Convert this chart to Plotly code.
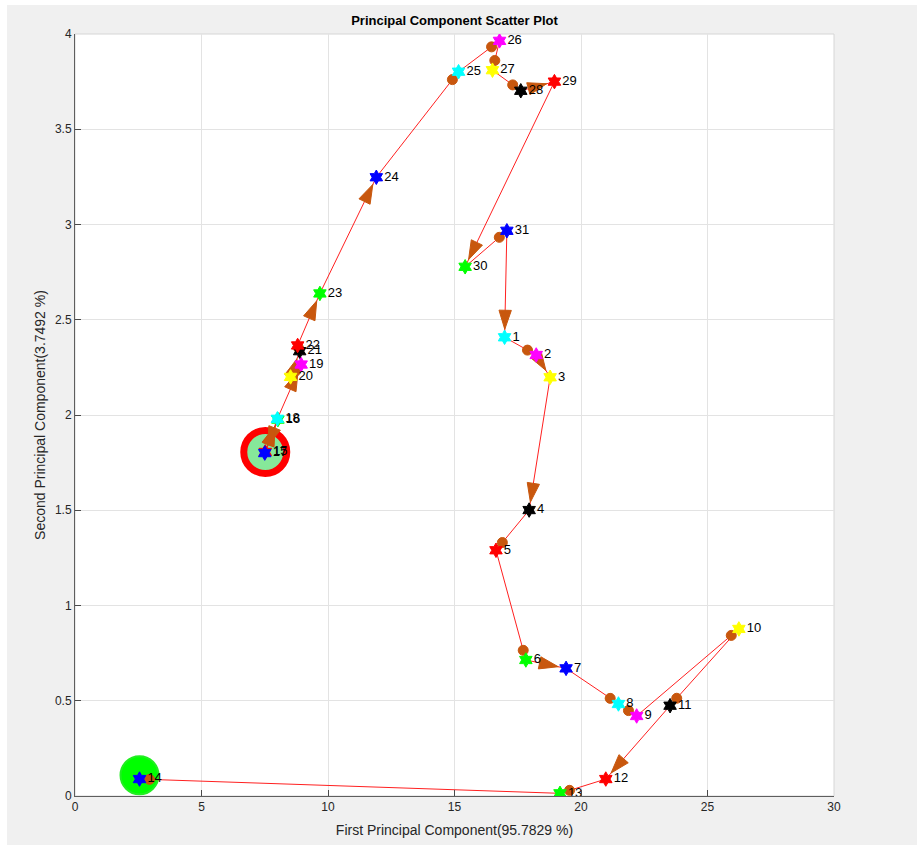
import math
import plotly.graph_objects as go

# ---- data (path order) ----
labels = [15, 16, 17, 18, 19, 20, 21, 22, 23, 24, 25, 26, 27, 28, 29, 30, 31,
          1, 2, 3, 4, 5, 6, 7, 8, 9, 10, 11, 12, 13, 14]
pc1 = [7.52, 8.02, 7.50, 8.00, 8.94, 8.52, 8.88, 8.80, 9.68, 11.91, 15.16, 16.78,
       16.50, 17.62, 18.95, 15.42, 17.07,
       16.98, 18.23, 18.78, 17.95, 16.64, 17.82, 19.41, 21.48, 22.20, 26.24,
       23.52, 20.98, 19.17, 2.55]
pc2 = [1.806, 1.976, 1.800, 1.980, 2.265, 2.200, 2.335, 2.365, 2.638, 3.248, 3.802,
       3.964, 3.810, 3.702, 3.750, 2.778, 2.967,
       2.408, 2.315, 2.198, 1.501, 1.290, 0.714, 0.670, 0.483, 0.420, 0.877,
       0.474, 0.089, 0.014, 0.089]
# arrow head style per segment (i -> i+1)
arrow_kind = ["tri", "tri", "tri", "tri", "blob", "tri", "blob", "tri", "tri",
              "blob", "blob", "blob", "blob", "tri", "tri", "blob", "tri",
              "blob", "tri", "tri", "blob", "blob", "tri", "blob", "blob", "blob",
              "blob", "tri", "blob", "blob"]

x_title = "First Principal Component(95.7829 %)"
y_title = "Second Principal Component(3.7492 %)"
title = "Principal Component Scatter Plot"
x_range = [0, 30]
y_range = [0, 4]

# ---- styling ----
W, H = 917, 845
ML, MR, MT, MB = 75, 83, 34, 49
PW, PH = W - ML - MR, H - MT - MB
px_x = PW / (x_range[1] - x_range[0])
px_y = PH / (y_range[1] - y_range[0])

cycle = ["#FF0000", "#00FF00", "#0000FF", "#00FFFF", "#FF00FF", "#FFFF00", "#000000"]
colors = [cycle[i % len(cycle)] for i in range(len(labels))]
ARROW = "#C8570E"
FONT = "Liberation Sans, Arial, sans-serif"

# arrow heads computed from data
ax_, ay_, ang, sym, size = [], [], [], [], []
for i, kind in enumerate(arrow_kind):
    dx = (pc1[i + 1] - pc1[i]) * px_x
    dy = (pc2[i + 1] - pc2[i]) * px_y
    L = math.hypot(dx, dy) or 1.0
    ux, uy = dx / L, dy / L
    back = 8.0 if kind == "tri" else 10.0
    back = min(back, 0.45 * L)
    ax_.append(pc1[i + 1] - back * ux / px_x)
    ay_.append(pc2[i + 1] - back * uy / px_y)
    ang.append(math.degrees(math.atan2(ux, uy)))
    sym.append("arrow" if kind == "tri" else "circle")
    size.append(20 if kind == "tri" else 10)

fig = go.Figure()

# start / end big markers
fig.add_trace(go.Scatter(
    x=[pc1[0]], y=[pc2[0]], mode="markers",
    marker=dict(symbol="circle", size=43, color="#86E89A", opacity=1,
                line=dict(color="#FF0000", width=7)),
    hoverinfo="skip"))
fig.add_trace(go.Scatter(
    x=[pc1[-1]], y=[pc2[-1] + 0.02], mode="markers",
    marker=dict(symbol="circle", size=38, color="#00FF00", opacity=1,
                line=dict(color="#22EE22", width=2)),
    hoverinfo="skip"))

# path line
fig.add_trace(go.Scatter(
    x=pc1, y=pc2, mode="lines",
    line=dict(color="#FF2020", width=1), hoverinfo="skip"))

# arrow heads
fig.add_trace(go.Scatter(
    x=ax_, y=ay_, mode="markers",
    marker=dict(symbol=sym, size=size, angle=ang, color=ARROW, opacity=1,
                line=dict(color=ARROW, width=1)),
    hoverinfo="skip"))

# points + labels
fig.add_trace(go.Scatter(
    x=pc1, y=pc2, mode="markers+text",
    text=[str(v) for v in labels], textposition="middle right",
    textfont=dict(family=FONT, size=13, color="#000000"),
    marker=dict(symbol="hexagram", size=11, color=colors, opacity=1,
                line=dict(color=colors, width=1)),
    hoverinfo="skip"))

axis_common = dict(
    showgrid=True, gridcolor="#E3E3E3", gridwidth=1,
    zeroline=False, showline=True, linecolor="#5E5E5E", linewidth=1,
    ticks="inside", ticklen=6, tickcolor="#4A4A4A",
    tickfont=dict(family=FONT, size=12, color="#262626"),
)

fig.update_layout(
    width=W, height=H,
    margin=dict(l=ML, r=MR, t=MT, b=MB, autoexpand=False),
    paper_bgcolor="#F0F0F0", plot_bgcolor="#FFFFFF",
    showlegend=False,
    title=dict(text="<b>" + title + "</b>", x=0.5, xref="paper",
               y=1 - 20 / H, yref="container", yanchor="middle",
               font=dict(family=FONT, size=13, color="#000000")),
    xaxis=dict(range=x_range, tick0=0, dtick=5,
               title=dict(text=x_title, standoff=11,
                          font=dict(family=FONT, size=14, color="#262626")),
               **axis_common),
    yaxis=dict(range=y_range, tick0=0, dtick=0.5,
               title=dict(text=y_title, standoff=6,
                          font=dict(family=FONT, size=14, color="#262626")),
               **axis_common),
    shapes=[
        dict(type="rect", xref="paper", yref="paper", x0=0, y0=0, x1=1, y1=1,
             line=dict(color="#D6D6D6", width=1), layer="below"),
        dict(type="rect", xref="paper", yref="paper",
             x0=-ML / PW, x1=(7 - ML) / PW, y0=-MB / PH, y1=1 + MT / PH,
             fillcolor="#FFFFFF", line=dict(width=0), layer="below"),
        dict(type="rect", xref="paper", yref="paper",
             x0=-ML / PW, x1=1 + MR / PW, y0=1 + (MT - 5) / PH, y1=1 + MT / PH,
             fillcolor="#FFFFFF", line=dict(width=0), layer="below"),
    ],
)

fig.write_html("out.html")
